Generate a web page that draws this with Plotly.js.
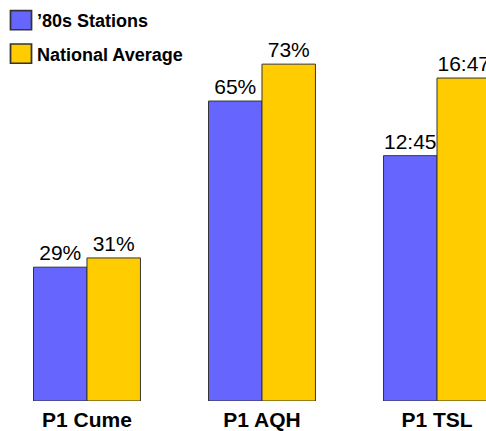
<!DOCTYPE html>
<html>
<head>
<meta charset="utf-8">
<script src="https://cdn.plot.ly/plotly-3.0.1.min.js"></script>
<style>html,body{margin:0;padding:0;background:#fff;}#chart{width:486px;height:431px;}</style>
</head>
<body>
<div id="chart"></div>
<script>
// Data
const pctCategories = ['P1 Cume', 'P1 AQH'];
const tslCategories = ['P1 TSL'];
const allCategories = ['P1 Cume', 'P1 AQH', 'P1 TSL'];
const seriesNames = ['\u201980s Stations', 'National Average'];
const stations80sPct = [29, 65];
const nationalPct = [31, 73];
const stations80sTslMin = [12.75];      // 12:45
const nationalTslMin = [16.783];        // 16:47
const stations80sTslLabel = ['12:45'];
const nationalTslLabel = ['16:47'];

const blue = 'rgb(102,102,255)';
const yellow = 'rgb(255,204,0)';
const edge = '#333333';
const FONT = '"Liberation Sans", Arial, Helvetica, sans-serif';

function pctText(a) { return a.map(v => v + '%'); }

const common = {
  type: 'bar',
  textposition: 'outside',
  cliponaxis: false,
  textfont: {family: FONT, size: 21, color: '#000'},
  hoverinfo: 'none'
};

const traces = [
  Object.assign({}, common, {
    name: seriesNames[0], x: pctCategories, y: stations80sPct, text: pctText(stations80sPct),
    marker: {color: blue, line: {color: edge, width: 1}}, xaxis: 'x', yaxis: 'y',
    legendgroup: 'a', offsetgroup: 'a'
  }),
  Object.assign({}, common, {
    name: seriesNames[1], x: pctCategories, y: nationalPct, text: pctText(nationalPct),
    marker: {color: yellow, line: {color: edge, width: 1}}, xaxis: 'x', yaxis: 'y',
    legendgroup: 'b', offsetgroup: 'b'
  }),
  Object.assign({}, common, {
    name: seriesNames[0], x: tslCategories, y: stations80sTslMin, text: stations80sTslLabel,
    marker: {color: blue, line: {color: edge, width: 1}}, xaxis: 'x', yaxis: 'y2',
    showlegend: false, legendgroup: 'a', offsetgroup: 'a'
  }),
  Object.assign({}, common, {
    name: seriesNames[1], x: tslCategories, y: nationalTslMin, text: nationalTslLabel,
    marker: {color: yellow, line: {color: edge, width: 1}}, xaxis: 'x', yaxis: 'y2',
    showlegend: false, legendgroup: 'b', offsetgroup: 'b'
  })
];

const layout = {
  width: 486, height: 431,
  margin: {l: 0, r: 0, t: 0, b: 30, pad: 0},
  paper_bgcolor: '#fff', plot_bgcolor: '#fff',
  font: {family: FONT, color: '#000'},
  barmode: 'group', bargap: 0.389, bargroupgap: 0,
  showlegend: true,
  legend: {
    x: 0, y: 0.995, xanchor: 'left', yanchor: 'top',
    font: {family: FONT, size: 18, weight: 'bold', color: '#000'},
    bgcolor: 'rgba(0,0,0,0)', traceorder: 'grouped', tracegroupgap: 7
  },
  xaxis: {
    type: 'category', categoryarray: allCategories, categoryorder: 'array',
    range: [-0.497, 2.28], showgrid: false, zeroline: false, showline: false, ticks: '',
    ticklabelstandoff: 4,
    tickfont: {family: FONT, size: 21, weight: 'bold', color: '#000'}
  },
  yaxis: {range: [0, 86.9], visible: false, showgrid: false, zeroline: false},
  yaxis2: {range: [0, 20.84], visible: false, overlaying: 'y', showgrid: false, zeroline: false}
};

Plotly.newPlot('chart', traces, layout, {displayModeBar: false, staticPlot: true}).then(() => {
  const lg = document.querySelector('.legend');
  if (lg) {
    const t0 = lg.getAttribute('transform') || '';
    lg.setAttribute('transform', t0 + ' translate(-3,0)');
  }
  document.querySelectorAll('.legendpoints path').forEach(p => {
    const t = p.getAttribute('transform') || '';
    p.setAttribute('transform', t + ' translate(4,0) scale(1.75,1.6)');
  });
});
</script>
</body>
</html>
